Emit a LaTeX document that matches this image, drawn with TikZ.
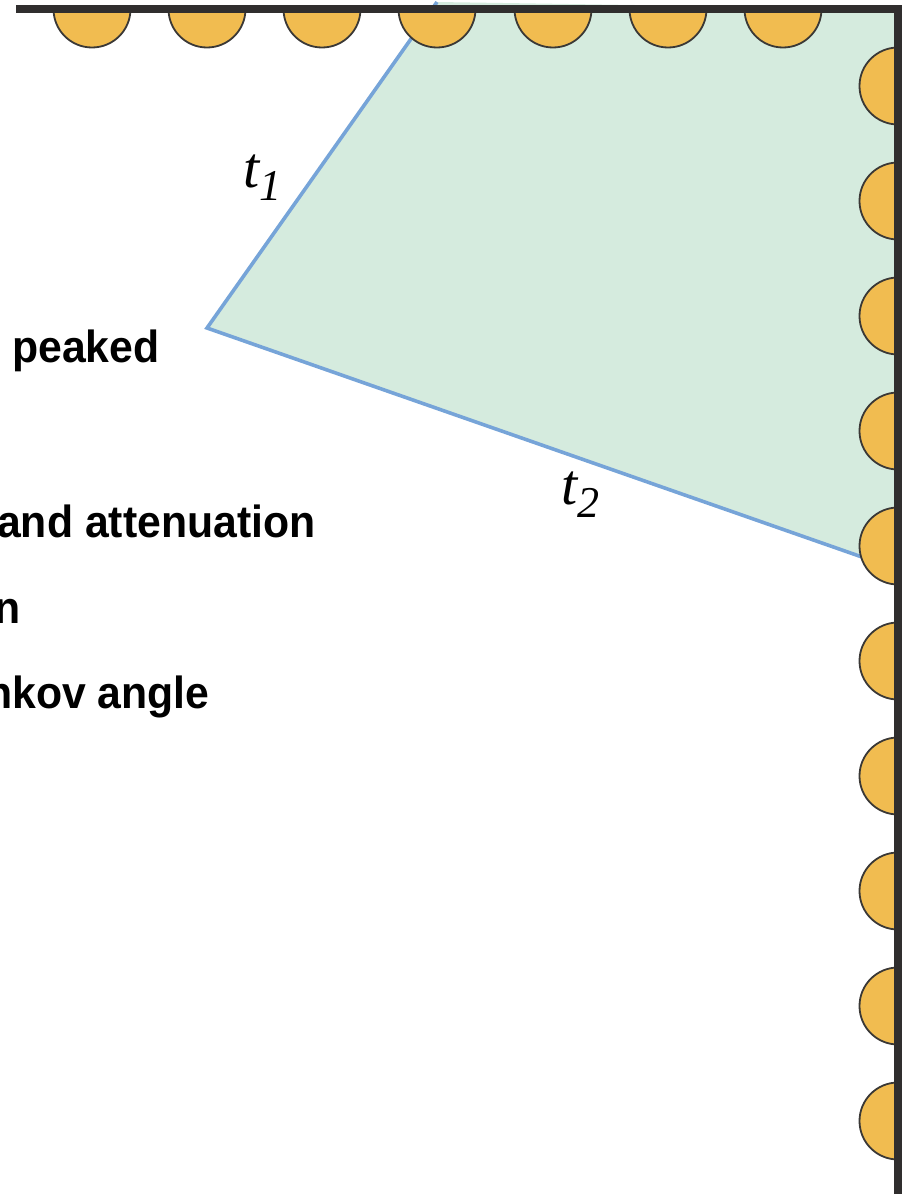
\documentclass[tikz,border=0pt]{standalone}
\usepackage{fontspec}
\setmainfont{Liberation Sans}
\newfontfamily\mathserif{Liberation Serif}
\definecolor{wall}{RGB}{48,46,46}
\definecolor{pmt}{RGB}{241,188,80}
\definecolor{pmtedge}{RGB}{58,56,54}
\definecolor{cone}{RGB}{213,235,222}
\definecolor{ray}{RGB}{118,164,216}
\newcommand{\narrow}[1]{\scalebox{0.95}[1]{#1}}
\begin{document}
\begin{tikzpicture}[x=1pt, y=-1pt,
  wallline/.style={draw=wall, line width=7.5pt},
  tube/.style={fill=pmt, draw=pmtedge, line width=1.8pt},
  raypath/.style={draw=ray, line width=3.6pt, line join=miter},
  note/.style={font=\fontsize{45}{52}\selectfont\bfseries, anchor=base west, inner sep=0pt},
  tlab/.style={font=\mathserif\itshape\fontsize{58}{64}\selectfont, inner sep=0pt, anchor=base west},
]
\useasboundingbox (0,0) rectangle (909,1194);
\clip (0,0) rectangle (909,1194);
\def\r{38.5}
% ---------------------------------------------------------------- cone
\coordinate (apex) at (207,328);
\coordinate (top) at (437,2);
\coordinate (hit) at (862,557);
\fill[cone] (top) -- (apex) -- (898,570) -- (898,9) -- cycle;
\draw[raypath] (top) -- (apex) -- (hit);

% ---------------------------------------------------------------- tubes
\foreach \cx in {92,207,322,437,553,668,783}
  \draw[tube] (\cx+\r,9) arc[start angle=0, end angle=180, radius=\r] -- cycle;
\foreach \cy in {86,201,316,431,546,661,776,891,1006,1121}
  \draw[tube] (898,\cy-\r) arc[start angle=-90, end angle=-270, radius=\r] -- cycle;

% ---------------------------------------------------------------- walls
\draw[wallline, line join=miter] (16,9) -- (898,9) -- (898,1200);

% ---------------------------------------------------------------- labels
\node[tlab] (t1) at (243,187) {t\raisebox{-13pt}{\fontsize{44}{48}\selectfont 1}};
\node[tlab] (t2) at (561,504) {t\raisebox{-13pt}{\fontsize{44}{48}\selectfont 2}};

\node[note] (peak) at (12,362) {\narrow{peaked}};
\node[note] (atten) at (-3,537) {\narrow{and attenuation}};
\node[note] (nline) at (-6,623) {\narrow{n}};
\node[note] (angle) at (-14,708) {\narrow{nkov angle}};
\end{tikzpicture}
\end{document}
